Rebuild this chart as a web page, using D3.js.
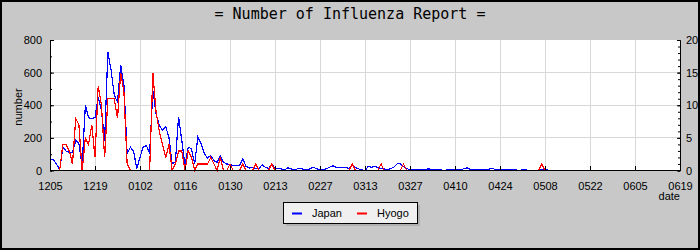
<!DOCTYPE html>
<html>
<head>
<meta charset="utf-8">
<script src="https://cdn.jsdelivr.net/npm/d3@7"></script>
<style>
    body { margin: 0; background: #c8c8c8; }
    svg { display: block; }
    .tick text { font-family: "Liberation Sans", Arial, sans-serif; font-size: 11px; fill: #000; }
</style>
</head>
<body>
<div id="graph"></div>
<script>
// daily reports from 2009-12-05
const startDay = "20091205";
const tickLabels = ["1205", "1219", "0102", "0116", "0130", "0213", "0227", "0313",
    "0327", "0410", "0424", "0508", "0522", "0605", "0619"];
const seriesNames = ["Japan", "Hyogo"];
const seriesColors = ["#0000ff", "#ff0000"];

// Japan (left axis)
const japan = [
    72, 66, 41, 4, 143, 119, 111, 111, 184, 164,
    31, 400, 324, 318, 324, 451, 369, 184, 728, 615,
    461, 420, 646, 523, 103, 143, 119, 10, 82, 143,
    154, 103, 492, 349, 277, 246, 267, 205, 41, 51,
    328, 184, 31, 143, 133, 41, 205, 164, 103, 76,
    92, 61, 51, 90, 50, 40, 37, 30, 31, 30,
    72, 25, 15, 20, 12, 12, 35, 20, 12, 38,
    14, 10, 10, 4, 16, 10, 4, 10, 12, 6,
    4, 12, 20, 10, 4, 6, 10, 20, 29, 20,
    20, 20, 20, 10, 31, 18, 10, 4, 0, 25,
    20, 25, 20, 10, 10, 4, 12, 20, 41, 41,
    25, 12, 4, 4, 4, 4, 4, 8, 10, 4,
    8, 8, 2, 2, 4, 4, 4, 4, 4, 14,
    16, 4, 4, 4, 4, 4, 4, 10, 10, 4,
    4, 4, 4, 4, 4, 4, 0, 4, 4, 0,
    0, 0, 0, 4, 8, 4
];

// Hyogo (right axis)
const hyogo = [
    0, 0, 0, 0, 4, 4, 3, 1, 8, 7,
    0, 5, 4, 7, 2, 13, 10, 2, 11, 11,
    11, 8, 15, 12, 1, 0, 0, 0, 0, 0,
    0, 0, 15, 9, 6, 4, 2, 4, 0, 1,
    3, 3, 0, 3, 2, 0, 1, 1, 1, 1,
    2, 1, 0, 2, 0, 0, 1, 0, 0, 0,
    1, 0, 0, 0, 1, 0, 0, 0, 0, 1,
    0, 0, 0, 0, 0, 0, 0, 0, 0, 0,
    0, 0, 0, 0, 0, 0, 0, 0, 0, 0,
    0, 0, 0, 0, 1, 0, 0, 0, 0, 0,
    0, 0, 0, 1, 0, 0, 0, 0, 0, 0,
    1, 0, 0, 0, 0, 0, 0, 0, 0, 0,
    0, 0, 0, 0, 0, 0, 0, 0, 0, 0,
    0, 0, 0, 0, 0, 0, 0, 0, 0, 0,
    0, 0, 0, 0, 0, 0, 0, 0, 0, 0,
    0, 0, 0, 1, 0, 0
];

const width = 700, height = 250;
const plot = {left: 50, right: 680, top: 40, bottom: 170};

let parseDay = d3.utcParse("%Y%m%d");
let start = parseDay(startDay);
let tickDates = tickLabels.map(t => parseDay((t[0] === "1" ? "2009" : "2010") + t));

let svg = d3.select("#graph").append("svg")
    .attr("width", width)
    .attr("height", height);

svg.append("rect")
    .attr("x", 1).attr("y", 1)
    .attr("width", width - 2).attr("height", height - 2)
    .attr("fill", "#c8c8c8")
    .attr("stroke", "#000")
    .attr("stroke-width", 2);

svg.append("text")
    .attr("x", 350).attr("y", 19)
    .attr("text-anchor", "middle")
    .attr("font-family", "DejaVu Sans Mono, monospace")
    .attr("font-size", 15)
    .text("= Number of Influenza Report =");

let x = d3.scaleUtc()
    .domain([tickDates[0], tickDates[tickDates.length - 1]])
    .range([plot.left, plot.right]);
let yLeft = d3.scaleLinear().domain([0, 800]).range([plot.bottom + 0.5, plot.top]);
let yRight = d3.scaleLinear().domain([0, 20]).range([plot.bottom + 0.5, plot.top]);

svg.append("rect")
    .attr("x", plot.left).attr("y", plot.top)
    .attr("width", plot.right - plot.left).attr("height", plot.bottom - plot.top)
    .attr("fill", "#fff");

// grid
let grid = svg.append("g")
    .attr("stroke", "#d8d8d8")
    .attr("shape-rendering", "crispEdges");
grid.selectAll(".vg")
    .data(tickDates.slice(1, -1))
    .enter().append("line")
    .attr("x1", d => x(d)).attr("x2", d => x(d))
    .attr("y1", plot.top).attr("y2", plot.bottom);
grid.selectAll(".hg")
    .data([200, 400, 600])
    .enter().append("line")
    .attr("x1", plot.left).attr("x2", plot.right)
    .attr("y1", d => yLeft(d)).attr("y2", d => yLeft(d));

// lines
let days = japan.map((d, i) => d3.utcDay.offset(start, i));
let lineLeft = d3.line().x((d, i) => x(days[i])).y(d => yLeft(d));
let lineRight = d3.line().x((d, i) => x(days[i])).y(d => yRight(d));

svg.append("path")
    .datum(japan)
    .attr("fill", "none")
    .attr("stroke", seriesColors[0])
    .attr("stroke-width", 1.2)
    .attr("shape-rendering", "crispEdges")
    .attr("d", lineLeft);

svg.append("path")
    .datum(hyogo)
    .attr("fill", "none")
    .attr("stroke", seriesColors[1])
    .attr("stroke-width", 1.2)
    .attr("shape-rendering", "crispEdges")
    .attr("d", lineRight);

// axes
svg.append("g")
    .attr("transform", `translate(0,${plot.bottom})`)
    .call(d3.axisBottom(x)
        .tickValues(tickDates)
        .tickFormat(d3.utcFormat("%m%d"))
        .tickSizeInner(-4)
        .tickSizeOuter(0)
        .tickPadding(12));

svg.append("g")
    .attr("transform", `translate(${plot.left},0)`)
    .call(d3.axisLeft(yLeft).tickValues(d3.range(0, 801, 100)).tickSize(-2).tickFormat(""));
svg.append("g")
    .attr("transform", `translate(${plot.left},0)`)
    .call(d3.axisLeft(yLeft).tickValues([0, 200, 400, 600, 800])
        .tickSizeInner(-4).tickSizeOuter(0).tickPadding(8));

svg.append("g")
    .attr("transform", `translate(${plot.right},0)`)
    .call(d3.axisRight(yRight).tickValues(d3.range(0, 21, 1)).tickSize(-2).tickFormat(""));
svg.append("g")
    .attr("transform", `translate(${plot.right},0)`)
    .call(d3.axisRight(yRight).tickValues([0, 5, 10, 15, 20])
        .tickSizeInner(-3).tickSizeOuter(0).tickPadding(6));

svg.selectAll(".domain").attr("stroke", "#000");

svg.append("text")
    .attr("transform", "translate(22,107) rotate(-90)")
    .attr("text-anchor", "middle")
    .attr("font-family", "Liberation Sans, Arial, sans-serif")
    .attr("font-size", 11)
    .text("number");

svg.append("text")
    .attr("x", plot.right).attr("y", 200)
    .attr("text-anchor", "end")
    .attr("font-family", "Liberation Sans, Arial, sans-serif")
    .attr("font-size", 11)
    .text("date");

// legend
let legend = svg.append("g").attr("transform", "translate(283,202)");
legend.append("rect")
    .attr("x", 3).attr("y", 3).attr("width", 134).attr("height", 21)
    .attr("fill", "#b0b0b0");
legend.append("rect")
    .attr("x", 0.5).attr("y", 0.5).attr("width", 134).attr("height", 21)
    .attr("fill", "#f0f0f0")
    .attr("stroke", "#000");

let items = legend.selectAll(".item")
    .data(seriesNames)
    .enter().append("g")
    .attr("transform", (d, i) => `translate(${9 + i * 65},0)`);
items.append("line")
    .attr("x1", 0).attr("x2", 10)
    .attr("y1", 11.5).attr("y2", 11.5)
    .attr("stroke", (d, i) => seriesColors[i])
    .attr("stroke-width", 2);
items.append("text")
    .attr("x", 20).attr("y", 15)
    .attr("font-family", "Liberation Sans, Arial, sans-serif")
    .attr("font-size", 11)
    .text(d => d);
</script>
</body>
</html>
